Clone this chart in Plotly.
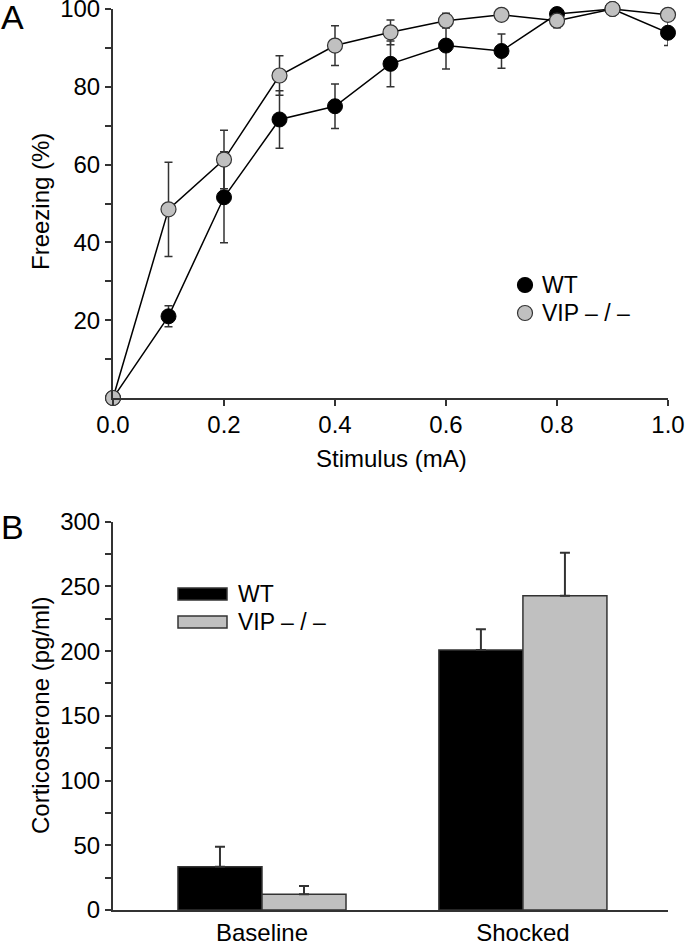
import plotly.graph_objects as go

# Panel A data
stimulus = [0.0, 0.1, 0.2, 0.3, 0.4, 0.5, 0.6, 0.7, 0.8, 0.9, 1.0]
wt_freeze = [0, 21.0, 51.6, 71.6, 75.0, 85.9, 90.6, 89.2, 98.7, 100.0, 93.9]
wt_freeze_err = [0, 2.7, 11.7, 7.4, 5.7, 5.9, 6.0, 4.4, 0.6, 0, 3.3]
vip_freeze = [0, 48.5, 61.3, 82.9, 90.6, 94.0, 97.0, 98.5, 97.0, 100.0, 98.5]
vip_freeze_err = [0, 12.1, 7.5, 5.1, 5.1, 3.2, 1.9, 0.5, 1.8, 0, 0.5]

# Panel B data
conditions = ["Baseline", "Shocked"]
wt_cort = [33.5, 200.9]
wt_cort_err = [15.4, 16.0]
vip_cort = [12.1, 242.7]
vip_cort_err = [6.4, 33.4]

yA_ticks = [20, 40, 60, 80, 100]
yA_minor = [10, 30, 50, 70, 90]
xA_ticks = [0.0, 0.2, 0.4, 0.6, 0.8, 1.0]
xA_labels = ["0.0", "0.2", "0.4", "0.6", "0.8", "1.0"]
yB_ticks = [0, 50, 100, 150, 200, 250, 300]
yB_minor = [25, 75, 125, 175, 225, 275]

W, H = 685, 943
FONT = "Arial, Liberation Sans, sans-serif"
AX = "#333333"
GRAY = "#c0c0c0"
FS = 24

def px(x):
    return x / W

def py(y):
    return 1 - y / H

fig = go.Figure()

fig.add_trace(go.Scatter(
    x=stimulus, y=wt_freeze, mode="lines+markers", name="WT",
    line=dict(color="black", width=1.5),
    marker=dict(size=15, color="black", line=dict(color="black", width=1)),
    error_y=dict(type="data", array=wt_freeze_err, color=AX, thickness=1.5, width=4),
    cliponaxis=False, showlegend=False, xaxis="x", yaxis="y"))
fig.add_trace(go.Scatter(
    x=stimulus, y=vip_freeze, mode="lines+markers", name="VIP -/-",
    line=dict(color="black", width=1.5),
    marker=dict(size=15, color=GRAY, line=dict(color=AX, width=1.2)),
    error_y=dict(type="data", array=vip_freeze_err, color=AX, thickness=1.5, width=4),
    cliponaxis=False, showlegend=False, xaxis="x", yaxis="y"))

fig.add_trace(go.Bar(
    x=conditions, y=wt_cort, name="WT",
    marker=dict(color="black", line=dict(color=AX, width=1.5)),
    error_y=dict(type="data", symmetric=False, array=wt_cort_err, arrayminus=[0, 0],
                 color=AX, thickness=2, width=5),
    showlegend=False, xaxis="x2", yaxis="y2"))
fig.add_trace(go.Bar(
    x=conditions, y=vip_cort, name="VIP -/-",
    marker=dict(color=GRAY, line=dict(color=AX, width=1.5)),
    error_y=dict(type="data", symmetric=False, array=vip_cort_err, arrayminus=[0, 0],
                 color=AX, thickness=2, width=5),
    showlegend=False, xaxis="x2", yaxis="y2"))

xdom = [px(113), px(668)]
axis_common = dict(showline=True, linecolor=AX, linewidth=2, showgrid=False, zeroline=False,
                   tickfont=dict(family=FONT, size=FS, color="black"), ticks="outside",
                   tickcolor=AX, tickwidth=2, ticklen=6, automargin=False,
                   ticklabeloverflow="allow")
minor_common = dict(ticks="outside", ticklen=6, tickcolor=AX, tickwidth=2)

fig.update_layout(
    width=W, height=H, margin=dict(l=0, r=0, t=0, b=0, pad=0),
    paper_bgcolor="white", plot_bgcolor="white",
    font=dict(family=FONT, size=FS, color="black"),
    barmode="group", bargap=0.356, bargroupgap=0,
    xaxis=dict(domain=xdom, range=[0, 1.0], tickvals=xA_ticks, ticktext=xA_labels,
               anchor="y", ticklabelstandoff=-2, **axis_common),
    yaxis=dict(domain=[py(398), py(9)], range=[0, 100], tickvals=yA_ticks,
               minor=dict(tickvals=yA_minor, **minor_common), anchor="x", **axis_common),
    xaxis2=dict(domain=xdom, range=[-0.571, 1.556], anchor="y2", automargin=False,
                showline=True, linecolor=AX, linewidth=2, showgrid=False, zeroline=False,
                ticks="", ticklabeloverflow="allow",
                tickfont=dict(family=FONT, size=FS, color="black")),
    yaxis2=dict(domain=[py(910), py(521.7)], range=[0, 300], tickvals=yB_ticks,
                minor=dict(tickvals=yB_minor, **minor_common), anchor="x2", **axis_common),
)

def text(label, x, y, size=FS, angle=0, xanchor="center", yanchor="middle"):
    fig.add_annotation(text=label, x=px(x), y=py(y), xref="paper", yref="paper",
                       xanchor=xanchor, yanchor=yanchor, showarrow=False, textangle=angle,
                       font=dict(family=FONT, size=size, color="black"))

# Axis titles
text("Stimulus (mA)", 391, 459)
text("Freezing (%)", 40, 202, angle=-90)
text("Corticosterone (pg/ml)", 40, 716, angle=-90)

# Panel letters
text("A", 12, 17, size=34)
text("B", 12, 527, size=34)

# Legend A (markers + text)
legA = [("WT", "black", "black", 285), ("VIP \u2013 / \u2013", GRAY, AX, 313)]
for label, fill, edge, yc in legA:
    fig.add_shape(type="circle", xref="paper", yref="paper", xsizemode="pixel", ysizemode="pixel",
                  xanchor=px(525), yanchor=py(yc), x0=-7.5, x1=7.5, y0=-7.5, y1=7.5,
                  fillcolor=fill, line=dict(color=edge, width=1.2))
    text(label, 540, yc, size=23, xanchor="left")

# Legend B (boxes + text)
legB = [("WT", "black", 594), ("VIP \u2013 / \u2013", GRAY, 622)]
for label, fill, yc in legB:
    fig.add_shape(type="rect", xref="paper", yref="paper",
                  x0=px(178), x1=px(227), y0=py(yc + 6), y1=py(yc - 6),
                  fillcolor=fill, line=dict(color=AX, width=1.5))
    text(label, 236, yc, size=23, xanchor="left")

fig.write_html("out.html", config={"displayModeBar": False},
               post_script="document.body.style.margin='0';document.body.style.overflow='hidden';")
